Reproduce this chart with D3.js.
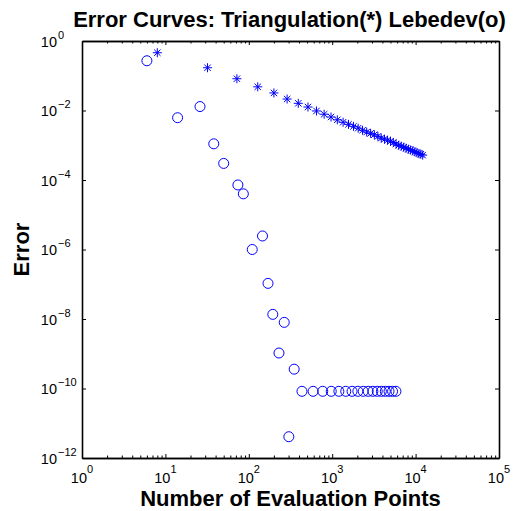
<!DOCTYPE html>
<html>
<head>
<meta charset="utf-8">
<script src="https://cdn.jsdelivr.net/npm/d3@7"></script>
<style>
  html, body { margin: 0; padding: 0; background: #fff; }
  svg { display: block; font-family: "Liberation Sans", Arial, Helvetica, sans-serif; }
</style>
</head>
<body>
<svg id="chart" width="525" height="511"></svg>
<script>
// ---- Data ----
const triangulationN = [8,32,72,128,200,288,392,512,648,800,968,1152,1352,1568,1800,2048,2312,2592,2888,3200,3528,3872,4232,4608,5000,5408,5832,6272,6728,7200,7688,8192,8712,9248,9800,10368,10952,11552,12168];
const triangulationErr = [0.46,0.17,0.082,0.048,0.032,0.0214,0.0161,0.0126,0.0097,0.0078,0.0065,0.0054,0.0046,0.0040,0.0035,0.0031,0.0027,0.0024,0.0022,0.0020,0.0018,0.0016,0.0015,0.0014,0.0013,0.0012,0.00108,0.00100,0.00094,0.00088,0.00082,0.00077,0.00073,0.00069,0.00065,0.00061,0.00058,0.00055,0.00052];

const lebedevN = [6,14,26,38,50,74,86,110,146,170,194,230,266,302,350,434,590,770,974,1202,1454,1730,2030,2354,2702,3074,3470,3890,4334,4802,5294,5810];
const lebedevErr = [0.27,6.2e-3,1.3e-2,1.1e-3,3.0e-4,7.2e-5,4.0e-5,1.0e-6,2.45e-6,1.06e-7,1.36e-8,1.05e-9,8.0e-9,4.1e-12,3.6e-10,8.3e-11,8.3e-11,8.3e-11,8.3e-11,8.3e-11,8.3e-11,8.3e-11,8.3e-11,8.3e-11,8.3e-11,8.3e-11,8.3e-11,8.3e-11,8.3e-11,8.3e-11,8.3e-11,8.3e-11];

const xTickExp = [0,1,2,3,4,5];
const yTickExp = [0,-2,-4,-6,-8,-10,-12];

const titleText = "Error Curves: Triangulation(*) Lebedev(o)";
const xLabelText = "Number of Evaluation Points";
const yLabelText = "Error";

// ---- Layout ----
const pLeft = 82, pRight = 499, pTop = 41, pBottom = 458;
const svg = d3.select("#chart");

const x = d3.scaleLog().domain([1, 1e5]).range([pLeft, pRight]);
const y = d3.scaleLog().domain([1e-12, 1]).range([pBottom, pTop]);

const xMajor = xTickExp.map(e => Math.pow(10, e));
const yMajor = yTickExp.map(e => Math.pow(10, e));
const xMinor = [];
for (let e = 0; e < 5; e++) for (let m = 2; m <= 9; m++) xMinor.push(m * Math.pow(10, e));

function styleAxis(g) {
  g.selectAll("path.domain").attr("stroke", "#000").attr("stroke-width", 1.6);
  g.selectAll(".tick line").attr("stroke", "#000").attr("stroke-width", 1);
  g.selectAll(".tick text").remove();
}

// bottom / top axes
svg.append("g").attr("transform", `translate(0,${pBottom})`)
  .call(d3.axisBottom(x).tickValues(xMajor).tickSizeInner(-4).tickSizeOuter(0).tickFormat(""))
  .call(styleAxis);
svg.append("g").attr("transform", `translate(0,${pBottom})`)
  .call(d3.axisBottom(x).tickValues(xMinor).tickSizeInner(-2.5).tickSizeOuter(0).tickFormat(""))
  .call(styleAxis);
svg.append("g").attr("transform", `translate(0,${pTop})`)
  .call(d3.axisTop(x).tickValues(xMajor).tickSizeInner(-4).tickSizeOuter(0).tickFormat(""))
  .call(styleAxis);
svg.append("g").attr("transform", `translate(0,${pTop})`)
  .call(d3.axisTop(x).tickValues(xMinor).tickSizeInner(-2.5).tickSizeOuter(0).tickFormat(""))
  .call(styleAxis);
// left / right axes
svg.append("g").attr("transform", `translate(${pLeft},0)`)
  .call(d3.axisLeft(y).tickValues(yMajor).tickSizeInner(-4).tickSizeOuter(0).tickFormat(""))
  .call(styleAxis);
svg.append("g").attr("transform", `translate(${pRight},0)`)
  .call(d3.axisRight(y).tickValues(yMajor).tickSizeInner(-4).tickSizeOuter(0).tickFormat(""))
  .call(styleAxis);

// x tick labels
const xl = svg.append("g");
xTickExp.forEach(e => {
  const t = xl.append("text")
    .attr("x", x(Math.pow(10, e)))
    .attr("y", 483)
    .attr("text-anchor", "middle")
    .attr("font-size", 14.5)
    .attr("fill", "#000");
  t.append("tspan").text("10");
  t.append("tspan").attr("dy", -10).attr("font-size", 11).text(e < 0 ? "\u2212" + (-e) : String(e));
});

// y tick labels
const yl = svg.append("g");
yTickExp.forEach(e => {
  const ty = y(Math.pow(10, e));
  yl.append("text")
    .attr("x", 57).attr("y", ty + 5.5)
    .attr("text-anchor", "end").attr("font-size", 14.5).attr("fill", "#000")
    .text("10");
  yl.append("text")
    .attr("x", 58).attr("y", ty - 2.5)
    .attr("text-anchor", "start").attr("font-size", 11).attr("fill", "#000")
    .text(e < 0 ? "\u2212" + (-e) : String(e));
});

// Lebedev circles
svg.append("g").selectAll("circle")
  .data(lebedevN.map((n, i) => [n, lebedevErr[i]]))
  .join("circle")
  .attr("cx", d => x(d[0]))
  .attr("cy", d => y(d[1]))
  .attr("r", 5)
  .attr("fill", "none")
  .attr("stroke", "#0000ff")
  .attr("stroke-width", 1);

// Triangulation asterisks
const s = 4.5, sd = 3.2;
const starPath = `M${-s},0L${s},0M0,${-s}L0,${s}M${-sd},${-sd}L${sd},${sd}M${-sd},${sd}L${sd},${-sd}`;
svg.append("g").selectAll("path")
  .data(triangulationN.map((n, i) => [n, triangulationErr[i]]))
  .join("path")
  .attr("transform", d => `translate(${x(d[0])},${y(d[1])})`)
  .attr("d", starPath)
  .attr("fill", "none")
  .attr("stroke", "#0000ff")
  .attr("stroke-width", 1);

// Title and axis labels
svg.append("text")
  .attr("x", (pLeft + pRight) / 2 - 1).attr("y", 27)
  .attr("text-anchor", "middle").attr("font-size", 22).attr("font-weight", "bold")
  .text(titleText);
svg.append("text")
  .attr("x", (pLeft + pRight) / 2).attr("y", 506)
  .attr("text-anchor", "middle").attr("font-size", 22).attr("font-weight", "bold")
  .text(xLabelText);
svg.append("text")
  .attr("transform", `translate(29,${(pTop + pBottom) / 2}) rotate(-90)`)
  .attr("text-anchor", "middle").attr("font-size", 22).attr("font-weight", "bold")
  .text(yLabelText);
</script>
</body>
</html>
